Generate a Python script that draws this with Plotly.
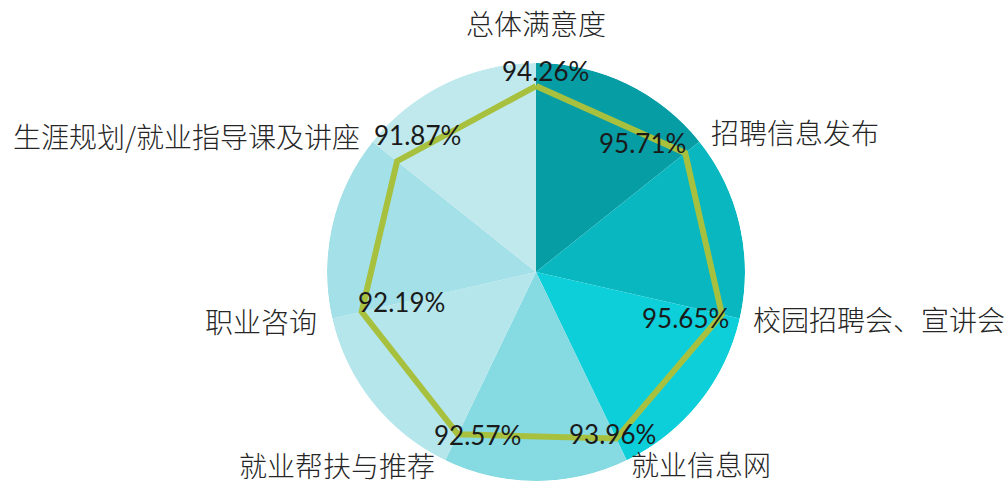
import math
import plotly.graph_objects as go

# ---- data ----
categories = ["总体满意度", "招聘信息发布", "校园招聘会、宣讲会", "就业信息网",
              "就业帮扶与推荐", "职业咨询", "生涯规划/就业指导课及讲座"]
values = [94.26, 95.71, 95.65, 93.96, 92.57, 92.19, 91.87]
value_labels = ["94.26%", "95.71%", "95.65%", "93.96%", "92.57%", "92.19%", "91.87%"]
slice_share = [1, 1, 1, 1, 1, 1, 1]
slice_colors = ["#079DA5", "#08B7C0", "#0CCFD9", "#86DAE2", "#B4E6EB", "#A3E0E7", "#C0E9EE"]

# ---- layout geometry ----
W, H = 1008, 484
CX, CY, R = 536, 272, 209
RMIN, RMAX = 40, 101

n = len(categories)
total = sum(slice_share)
widths = [360 * s / total for s in slice_share]
starts = [sum(widths[:i]) for i in range(n)]
centers = [starts[i] + widths[i] / 2 for i in range(n)]

dom_x = [(CX - R) / W, (CX + R) / W]
dom_y = [(H - CY - R) / H, (H - CY + R) / H]

fig = go.Figure()
fig.add_trace(go.Barpolar(
    r=[1] * n, theta=centers, width=widths,
    marker=dict(color=slice_colors, line=dict(width=0)),
    subplot="polar", showlegend=False, hoverinfo="skip"))
fig.add_trace(go.Scatterpolar(
    r=values + [values[0]], theta=starts + [starts[0]],
    mode="lines", line=dict(color="#A7C13F", width=6),
    subplot="polar2", showlegend=False))

ang = dict(rotation=90, direction="clockwise", visible=False,
           showgrid=False, showline=False, showticklabels=False, ticks="")
fig.update_layout(
    width=W, height=H, margin=dict(l=0, r=0, t=0, b=0),
    paper_bgcolor="white", plot_bgcolor="white",
    polar=dict(domain=dict(x=dom_x, y=dom_y), bgcolor="rgba(0,0,0,0)",
               radialaxis=dict(range=[0, 1], visible=False), angularaxis=ang),
    polar2=dict(domain=dict(x=dom_x, y=dom_y), bgcolor="rgba(0,0,0,0)",
                radialaxis=dict(range=[RMIN, RMAX], visible=False), angularaxis=ang),
)


def to_paper(rpx, th):
    t = math.radians(th)
    px = CX + rpx * math.sin(t)
    py = CY - rpx * math.cos(t)
    return px / W, 1 - py / H


# category labels: (xanchor, dx, dy) offsets from pie rim at axis angle
cat_style = [("center", 0, -40), ("left", 10, -10), ("left", 11, 0), ("left", 2, 4),
             ("right", -8, 5), ("right", -13, 2), ("right", -11, -6)]
for i, c in enumerate(categories):
    xa, dx, dy = cat_style[i]
    x, y = to_paper(R, starts[i])
    fig.add_annotation(x=x, y=y, xref="paper", yref="paper", text=c, showarrow=False,
                       xanchor=xa, yanchor="middle", xshift=dx, yshift=-dy,
                       font=dict(family="Noto Sans CJK SC", size=28, color="#262626",
                                 weight=300))

# value labels: offsets (center) from radar vertex
val_off = [(9, -15), (-43, -10), (-36, 4), (-4, -5), (20, 1), (40, -10), (20, -26)]
for i, t in enumerate(value_labels):
    rpx = (values[i] - RMIN) / (RMAX - RMIN) * R
    x, y = to_paper(rpx, starts[i])
    dx, dy = val_off[i]
    fig.add_annotation(x=x, y=y, xref="paper", yref="paper", text=t, showarrow=False,
                       xanchor="center", yanchor="middle", xshift=dx, yshift=-dy,
                       font=dict(family="Lato, Noto Sans", size=26, color="#1A1A1A"))

fig.write_html("out.html")
